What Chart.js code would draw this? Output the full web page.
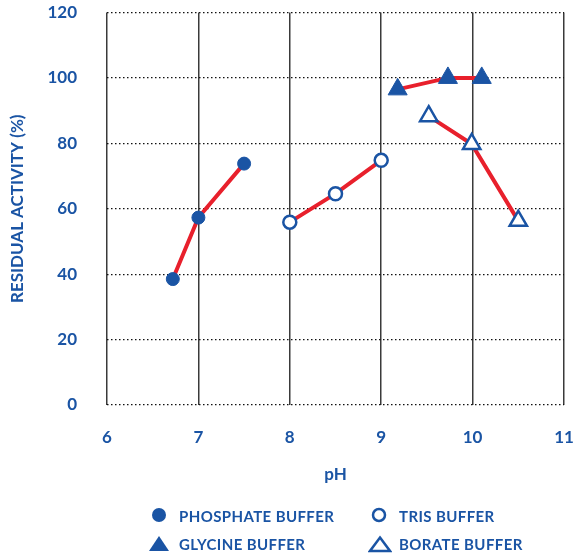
<!DOCTYPE html>
<html>
<head>
<meta charset="utf-8">
<script src="https://cdn.jsdelivr.net/npm/chart.js@4/dist/chart.umd.min.js"></script>
<style>
  html, body { margin: 0; padding: 0; background: #fff; }
  #wrap { position: relative; width: 577px; height: 557px; }
  #chart { position: absolute; left: 0; top: 0; }
  .leg { position: absolute; font: bold 15px Lato, sans-serif; letter-spacing: 0.4px; color: #1a54a4; white-space: nowrap; }
  .leg svg { position: absolute; left: 0; top: 0; }
  .leg span { position: absolute; left: 0; top: 0; line-height: 18px; }
</style>
</head>
<body>
<div id="wrap">
  <canvas id="chart" width="577" height="557"></canvas>
  <div id="legend"></div>
</div>
<script>
// ── DATA ──────────────────────────────────────────────────────────────────────

const PH_TICKS = [6, 7, 8, 9, 10, 11];
const ACTIVITY_TICKS = [0, 20, 40, 60, 80, 100, 120];

const PHOSPHATE_PH = [6.72, 7.0, 7.5];
const PHOSPHATE_ACT = [38.5, 57.3, 73.8];

const TRIS_PH = [8.0, 8.5, 9.0];
const TRIS_ACT = [55.9, 64.6, 74.8];

const GLYCINE_PH = [9.18, 9.73, 10.1];
const GLYCINE_ACT = [96.5, 100, 100];

const BORATE_PH = [9.52, 9.99, 10.5];
const BORATE_ACT = [88.3, 79.8, 56.3];

const LABELS = ['PHOSPHATE BUFFER', 'TRIS BUFFER', 'GLYCINE BUFFER', 'BORATE BUFFER'];

// ── STYLE ─────────────────────────────────────────────────────────────────────

const BLUE = '#1a54a4';
const RED = '#e8202c';
const FONT = 'Lato, sans-serif';

const pts = (xs, ys) => xs.map((x, i) => ({ x, y: ys[i] }));

function series(label, data, style, radius, filled) {
  return {
    label,
    data,
    showLine: true,
    borderColor: RED,
    borderWidth: 4,
    pointStyle: style,
    pointRadius: radius,
    pointHoverRadius: radius,
    pointBackgroundColor: filled ? BLUE : '#fff',
    pointBorderColor: BLUE,
    pointBorderWidth: filled ? 1 : 2.5,
  };
}

// keep tick padding from pushing the plot area inwards
const noPad = s => { s.paddingTop = 0; s.paddingBottom = 0; s.paddingLeft = 0; s.paddingRight = 0; };

// ── CHART ─────────────────────────────────────────────────────────────────────

new Chart(document.getElementById('chart'), {
  type: 'scatter',
  data: {
    datasets: [
      series(LABELS[0], pts(PHOSPHATE_PH, PHOSPHATE_ACT), 'circle', 6.5, true),
      series(LABELS[1], pts(TRIS_PH, TRIS_ACT), 'circle', 6.5, false),
      series(LABELS[2], pts(GLYCINE_PH, GLYCINE_ACT), 'triangle', 11, true),
      series(LABELS[3], pts(BORATE_PH, BORATE_ACT), 'triangle', 10, false),
    ],
  },
  options: {
    responsive: false,
    animation: false,
    layout: { padding: { left: 0, top: 12, right: 13, bottom: 72 } },
    plugins: { legend: { display: false }, tooltip: { enabled: false } },
    scales: {
      x: {
        type: 'linear',
        min: 6, max: 11,
        afterBuildTicks: s => { s.ticks = PH_TICKS.map(v => ({ value: v })); },
        afterFit: s => { s.height = 80; noPad(s); },
        grid: { color: '#3a3a3a', lineWidth: 1.5, drawTicks: false },
        border: { display: false },
        ticks: { color: BLUE, font: { family: FONT, size: 17, weight: 'bold' }, padding: 22 },
        title: { display: true, text: 'pH', color: BLUE, font: { family: FONT, size: 17, weight: 'bold' }, padding: { top: 1, bottom: 0 } },
      },
      y: {
        min: 0, max: 120,
        afterBuildTicks: s => { s.ticks = ACTIVITY_TICKS.map(v => ({ value: v })); },
        afterFit: s => { s.width = 107; noPad(s); },
        grid: { color: '#111', lineWidth: 1.3, drawTicks: false },
        border: { display: false, dash: [1.5, 2.5] },
        ticks: { color: BLUE, font: { family: FONT, size: 17, weight: 'bold' }, padding: 30 },
        title: { display: true, text: 'RESIDUAL ACTIVITY (%)', color: BLUE, font: { family: FONT, size: 17, weight: 'bold' }, padding: { top: 7, bottom: 0 } },
      },
    },
  },
});

// ── LEGEND (HTML) ─────────────────────────────────────────────────────────────

const LEGEND_POS = [
  { x: 151, y: 507, style: 'circle', filled: true },
  { x: 371, y: 507, style: 'circle', filled: false },
  { x: 148, y: 535, style: 'triangle', filled: true },
  { x: 368, y: 535, style: 'triangle', filled: false },
];

document.getElementById('legend').innerHTML = LEGEND_POS.map((p, i) => {
  const icon = p.style === 'circle'
    ? (p.filled
        ? `<circle cx="8" cy="8" r="7" fill="${BLUE}"/>`
        : `<circle cx="8" cy="8" r="6" fill="#fff" stroke="${BLUE}" stroke-width="2.5"/>`)
    : (p.filled
        ? `<polygon points="11,1 21,16 1,16" fill="${BLUE}"/>`
        : `<polygon points="12,2.5 22,16 2,16" fill="#fff" stroke="${BLUE}" stroke-width="2.5"/>`);
  return `<div class="leg" style="left:${p.x}px;top:${p.y}px;width:200px;height:20px">
    <svg width="24" height="18">${icon}</svg>
    <span style="left:${p.style === 'circle' ? 28 : 31}px">${LABELS[i]}</span>
  </div>`;
}).join('');
</script>
</body>
</html>
